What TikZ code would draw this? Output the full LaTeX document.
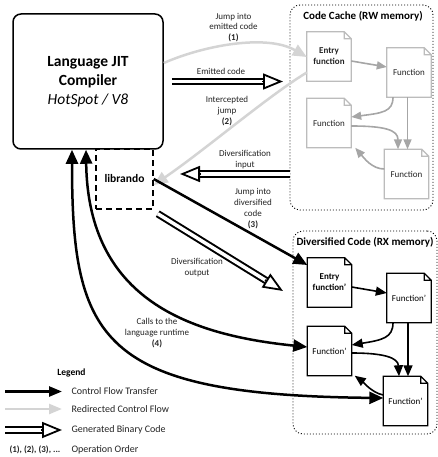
\documentclass[tikz,border=0pt]{standalone}
\usepackage{fontspec}
\setmainfont{Carlito}
\usetikzlibrary{arrows.meta,calc}

\definecolor{lightflow}{RGB}{212,212,212}
\definecolor{cacheflow}{RGB}{166,166,166}
\definecolor{cacheline}{RGB}{188,188,188}
\definecolor{labeltext}{RGB}{35,35,35}

% page outline with folded corner around a named node
\newcommand\docframe[2]{%
  \draw[#2] (#1.south west) -- (#1.north west) -- ([xshift=-7pt]#1.north east)
    -- ([yshift=-7pt]#1.north east) -- (#1.south east) -- cycle
    ([xshift=-7pt]#1.north east) |- ([yshift=-7pt]#1.north east);}

% generated-code arrow: doubled shaft plus hollow triangular head
\newcommand\genarrow[2]{%
  \draw[gencode shaft] (#1) -- ($(#2)!19pt!(#1)$);
  \draw[gencode head] ($(#2)!21pt!(#1)$) -- (#2);}

\begin{document}
\begin{tikzpicture}[x=1pt,y=-1pt,
  lbl/.style={font=\fontsize{9}{10.8}\selectfont, align=center, text=labeltext},
  legtext/.style={font=\fontsize{10}{12}\selectfont, anchor=west, text=labeltext},
  region/.style={draw, line width=0.9pt, dash pattern=on 1pt off 2pt, rounded corners=10pt, inner sep=0},
  regiontitle/.style={font=\bfseries\fontsize{11}{13}\selectfont},
  docbox/.style={minimum width=44pt, minimum height=49pt, inner sep=1pt, align=center, font=\fontsize{9}{11}\selectfont},
  flow/.style={line width=2.5pt, -{Triangle[length=14pt,width=12pt]}},
  flowboth/.style={line width=2.5pt, {Triangle[length=14pt,width=12pt]}-{Triangle[length=14pt,width=12pt]}},
  redirect/.style={draw=lightflow, line width=2.5pt, -{Triangle[length=14pt,width=12pt]}},
  cacheedge/.style={draw=cacheflow, line width=1.6pt, -{Triangle[length=10pt,width=8pt]}},
  divedge/.style={line width=1.6pt, -{Triangle[length=11pt,width=9pt]}},
  gencode shaft/.style={draw, double=white, line width=2pt, double distance=3.5pt},
  gencode head/.style={draw, line width=1.8pt, -{Triangle[length=20pt,width=16pt,fill=white,line width=1.8pt]}},
]
\useasboundingbox (0,0) rectangle (438,457);

% ---------- compiler and librando ----------
\node[draw, line width=1.5pt, dash pattern=on 6pt off 4pt, minimum width=57pt, minimum height=60pt,
      inner sep=0, font=\bfseries\fontsize{11.5}{13}\selectfont] (lib) at (124.5,179) {librando};
\node[draw, fill=white, line width=1.5pt, rounded corners=8pt, minimum width=150pt, minimum height=135pt,
      inner sep=0, align=center, font=\fontsize{15.5}{19}\selectfont] (comp) at (88,81.5)
      {\textbf{Language JIT}\\\textbf{Compiler}\\\textit{HotSpot / V8}};

% ---------- code cache ----------
\node[region, minimum width=143pt, minimum height=205pt] (cc) at (361.5,107.5) {};
\node[regiontitle] at (363,16) {Code Cache (RW memory)};

\node[docbox, text=labeltext] (cEntry) at (329,56.5) {\textbf{Entry}\\\textbf{function}};
\node[docbox, text=labeltext] (cF1) at (409,72.5) {Function};
\node[docbox, text=labeltext] (cF2) at (329,123) {Function};
\node[docbox, text=labeltext] (cF3) at (406.5,174) {Function};
\foreach \d in {cEntry,cF1,cF2,cF3} {\docframe{\d}{draw=cacheline, line width=1.2pt}}

\draw[cacheedge] ([yshift=-4.5pt]cEntry.east) -- ([yshift=5.5pt]cF1.west);
\draw[cacheedge] ([xshift=-16pt]cF1.south) .. controls (393,112) and (382,113) .. ([yshift=6pt]cF2.east);
\draw[cacheedge] ([xshift=-1.5pt]cF1.south) -- ([xshift=1pt]cF3.north);
\draw[cacheedge] ([yshift=-3pt]cF2.east) .. controls (385,126) and (398,130) .. ([xshift=-8.5pt]cF3.north);
\draw[cacheedge] ([yshift=5pt]cF3.west) .. controls (372,169) and (364,158) .. ([xshift=4pt]cF2.south east);

% ---------- diversified code ----------
\node[region, minimum width=144pt, minimum height=203pt] (dc) at (365,332.5) {};
\node[regiontitle] at (365,242) {Diversified Code (RX memory)};

\node[docbox] (dEntry) at (329.5,282.5) {\textbf{Entry}\\\textbf{function'}};
\node[docbox] (dF1) at (409,298) {Function'};
\node[docbox] (dF2) at (329.5,351) {Function'};
\node[docbox] (dF3) at (405.5,401) {Function'};
\foreach \d in {dEntry,dF1,dF2,dF3} {\docframe{\d}{line width=1.2pt}}

\draw[divedge] ([yshift=-4.5pt]dEntry.east) -- ([yshift=5pt]dF1.west);
\draw[divedge] ([xshift=-16pt]dF1.south) .. controls (393,338) and (382,340) .. ([yshift=6pt]dF2.east);
\draw[divedge] ([xshift=-1pt]dF1.south) -- ([xshift=2.5pt]dF3.north);
\draw[divedge] ([yshift=-2pt]dF2.east) .. controls (385,353) and (398,358) .. ([xshift=-6.5pt]dF3.north);
\draw[divedge] ([yshift=6pt]dF3.west) .. controls (372,393) and (362,381) .. ([xshift=3pt]dF2.south east);

% ---------- connectors between compiler, librando and code regions ----------
\draw[redirect] ([yshift=18.5pt]comp.east) .. controls (205,45) and (267,34) .. ([yshift=-0.5pt]cEntry.west);
\node[lbl] at (233.5,27.5) {Jump into\\emitted code\\\textbf{(1)}};

\coordinate (emitTail) at ([xshift=8pt]comp.east);
\coordinate (emitTip) at (283,81.5);
\genarrow{emitTail}{emitTip}
\node[lbl] at (221,71) {Emitted code};

\draw[redirect] ([yshift=-16pt]cEntry.west) .. controls (268,96) and (205,150) .. ([yshift=-6pt]lib.east);
\node[lbl] at (227,111) {Intercepted\\jump\\\textbf{(2)}};

\coordinate (inTip) at (180,174);
\coordinate (inTail) at (cc.west |- inTip);
\genarrow{inTail}{inTip}
\node[lbl] at (245,159.5) {Diversification\\input};

\draw[flow] (lib.east) -- ([yshift=17.5pt]dEntry.west);
\node[lbl] at (253,208.5) {Jump into\\diversified\\code\\\textbf{(3)}};

\coordinate (outTail) at ([shift={(4pt,-4pt)}]lib.south east);
\coordinate (outTip) at (283,291);
\genarrow{outTail}{outTip}
\node[lbl] at (197,267.5) {Diversification\\output};

\draw[flowboth] ([xshift=-16pt]comp.south) .. controls (72,340) and (100,395) .. ([yshift=3pt]dF3.west);
\draw[flowboth] ([xshift=-2pt]comp.south) .. controls (88,300) and (190,335) .. ([yshift=4pt]dF2.west);
\node[lbl] at (157,333) {Calls to the\\language runtime\\\textbf{(4)}};

% ---------- legend ----------
\node[font=\bfseries\fontsize{9.5}{11}\selectfont] at (71.5,373) {Legend};

\coordinate (lgA1) at (5,391.5);  \coordinate (lgA2) at (62,391.5);
\coordinate (lgB1) at (5,409);    \coordinate (lgB2) at (62,409);
\coordinate (lgC1) at (5,430);    \coordinate (lgC2) at (62,430);
\draw[line width=2.5pt, -{Triangle[length=13pt,width=10pt]}] (lgA1) -- (lgA2);
\draw[draw=lightflow, line width=2.5pt, -{Triangle[length=13pt,width=10pt]}] (lgB1) -- (lgB2);
\genarrow{lgC1}{lgC2}

\node[legtext] at (68,391.5) {Control Flow Transfer};
\node[legtext] at (68,409) {Redirected Control Flow};
\node[legtext] at (68,430) {Generated Binary Code};
\node[legtext, anchor=west, font=\bfseries\fontsize{9}{11}\selectfont] at (6,450) {(1), (2), (3), ...};
\node[legtext] at (68,450) {Operation Order};
\end{tikzpicture}
\end{document}
